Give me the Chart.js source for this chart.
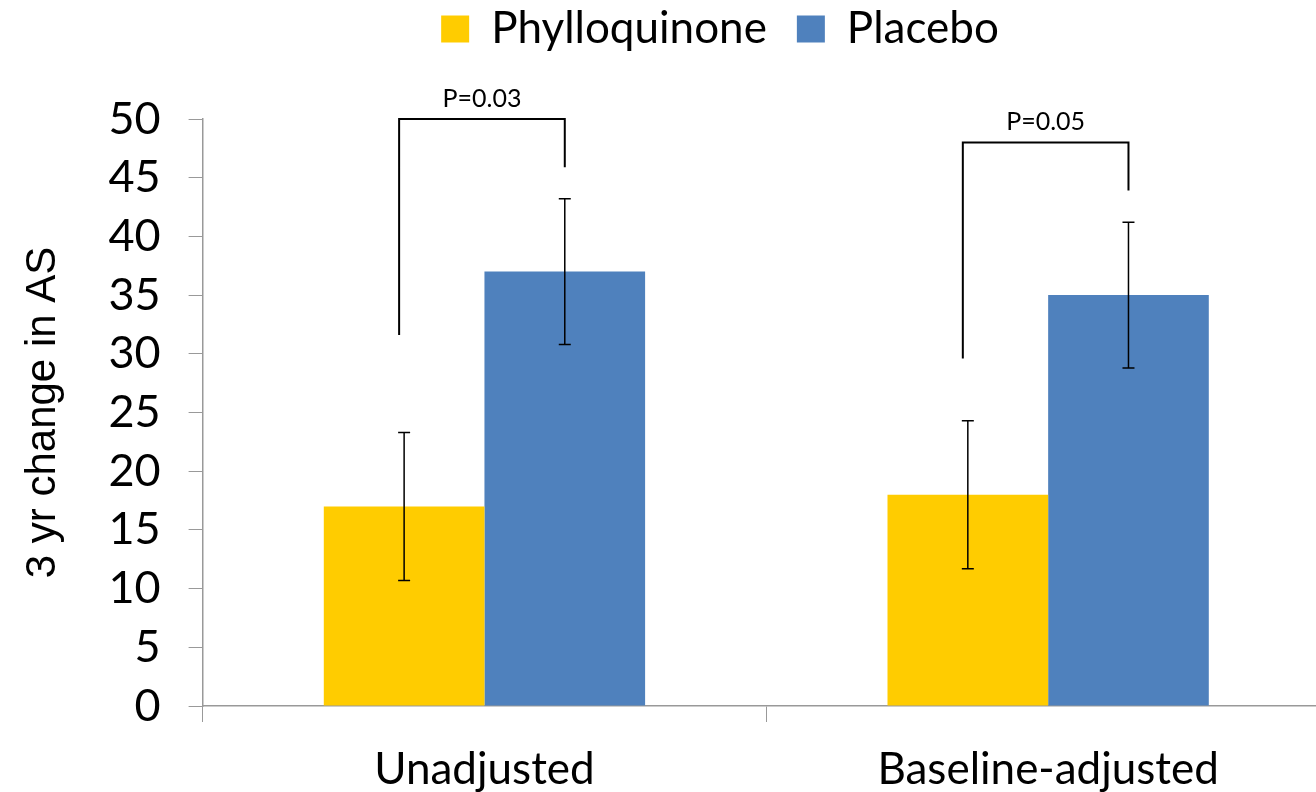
<!DOCTYPE html>
<html>
<head>
<meta charset="utf-8">
<script src="https://cdn.jsdelivr.net/npm/chart.js@4"></script>
<style>
    html, body { margin: 0; padding: 0; background: #fff; overflow: hidden; }
    #wrap { width: 1330px; height: 792px; }
</style>
</head>
<body>
<div id="wrap"><canvas id="asChart"></canvas></div>
<script>
const categories = ['Unadjusted', 'Baseline-adjusted'];
const phylloValues = [17, 18];
const placeboValues = [37, 35];
const phylloErrors = [6.3, 6.3];
const placeboErrors = [6.2, 6.2];
const yTicks = [0, 5, 10, 15, 20, 25, 30, 35, 40, 45, 50];

// significance brackets (y values in data units)
const pLabels = ['P=0.03', 'P=0.05'];
const bracketTop = [50, 48];
const bracketLeftEnd = [31.6, 29.6];
const bracketRightEnd = [45.9, 43.9];

const errorBarPlugin = {
    id: 'errorBars',
    afterDatasetsDraw: function (chart) {
        const ctx = chart.ctx;
        const y = chart.scales.y;
        const errors = [phylloErrors, placeboErrors];
        ctx.save();
        ctx.strokeStyle = '#000';
        ctx.lineWidth = 1.5;
        chart.data.datasets.forEach(function (ds, di) {
            chart.getDatasetMeta(di).data.forEach(function (bar, i) {
                const top = y.getPixelForValue(ds.data[i] + errors[di][i]);
                const bottom = y.getPixelForValue(ds.data[i] - errors[di][i]);
                ctx.beginPath();
                ctx.moveTo(bar.x, top);
                ctx.lineTo(bar.x, bottom);
                ctx.moveTo(bar.x - 6, top);
                ctx.lineTo(bar.x + 6, top);
                ctx.moveTo(bar.x - 6, bottom);
                ctx.lineTo(bar.x + 6, bottom);
                ctx.stroke();
            });
        });

        const left = chart.getDatasetMeta(0).data;
        const right = chart.getDatasetMeta(1).data;
        ctx.lineWidth = 2;
        ctx.fillStyle = '#000';
        ctx.font = '25px Lato';
        ctx.textAlign = 'center';
        ctx.textBaseline = 'bottom';
        pLabels.forEach(function (label, i) {
            const x1 = left[i].x - 5;
            const x2 = right[i].x;
            const t = y.getPixelForValue(bracketTop[i]);
            ctx.beginPath();
            ctx.moveTo(x1, y.getPixelForValue(bracketLeftEnd[i]));
            ctx.lineTo(x1, t);
            ctx.lineTo(x2, t);
            ctx.lineTo(x2, y.getPixelForValue(bracketRightEnd[i]));
            ctx.stroke();
            ctx.fillText(label, (x1 + x2) / 2, t - 8);
        });
        ctx.restore();
    }
};

// nudge the legend to where the original sits
const legendShift = {
    id: 'legendShift',
    afterLayout: function (chart) {
        chart.legend.left += 46;
        chart.legend.right += 46;
        chart.legend.top -= 58;
        chart.legend.bottom -= 58;
    }
};

new Chart(document.getElementById('asChart'), {
    type: 'bar',
    data: {
        labels: categories,
        datasets: [{
            label: 'Phylloquinone',
            data: phylloValues,
            backgroundColor: '#FFCC00',
            categoryPercentage: 0.57,
            barPercentage: 1.0
        }, {
            label: 'Placebo',
            data: placeboValues,
            backgroundColor: '#4F81BD',
            categoryPercentage: 0.57,
            barPercentage: 1.0
        }]
    },
    options: {
        responsive: true,
        maintainAspectRatio: false,
        animation: false,
        layout: {
            padding: { top: 35, left: 18, right: 0, bottom: 0 }
        },
        plugins: {
            legend: {
                position: 'top',
                labels: {
                    boxWidth: 28,
                    boxHeight: 27,
                    padding: 30,
                    color: '#000',
                    font: { family: 'Lato', size: 44 }
                }
            },
            tooltip: { enabled: false }
        },
        scales: {
            x: {
                afterFit: function (axis) {
                    axis.height = 86;
                },
                grid: {
                    display: true,
                    drawOnChartArea: false,
                    tickLength: 16,
                    color: '#999'
                },
                border: { color: '#999', width: 1.5 },
                ticks: {
                    color: '#000',
                    font: { family: 'Lato', size: 44, lineHeight: 1 },
                    padding: 26,
                    maxRotation: 0
                }
            },
            y: {
                min: 0,
                max: 50,
                afterBuildTicks: function (axis) {
                    axis.ticks = yTicks.map(function (v) { return { value: v }; });
                },
                grid: {
                    display: true,
                    drawOnChartArea: false,
                    tickLength: 14,
                    color: '#999'
                },
                border: { color: '#999', width: 1.5 },
                ticks: {
                    color: '#000',
                    font: { family: 'Lato', size: 45 },
                    padding: 28,
                    autoSkip: false
                },
                title: {
                    display: true,
                    text: '3 yr change in AS',
                    color: '#000',
                    font: { family: 'Liberation Sans', size: 42 },
                    padding: { top: 0, bottom: 12 }
                }
            }
        }
    },
    plugins: [errorBarPlugin, legendShift]
});
</script>
</body>
</html>
